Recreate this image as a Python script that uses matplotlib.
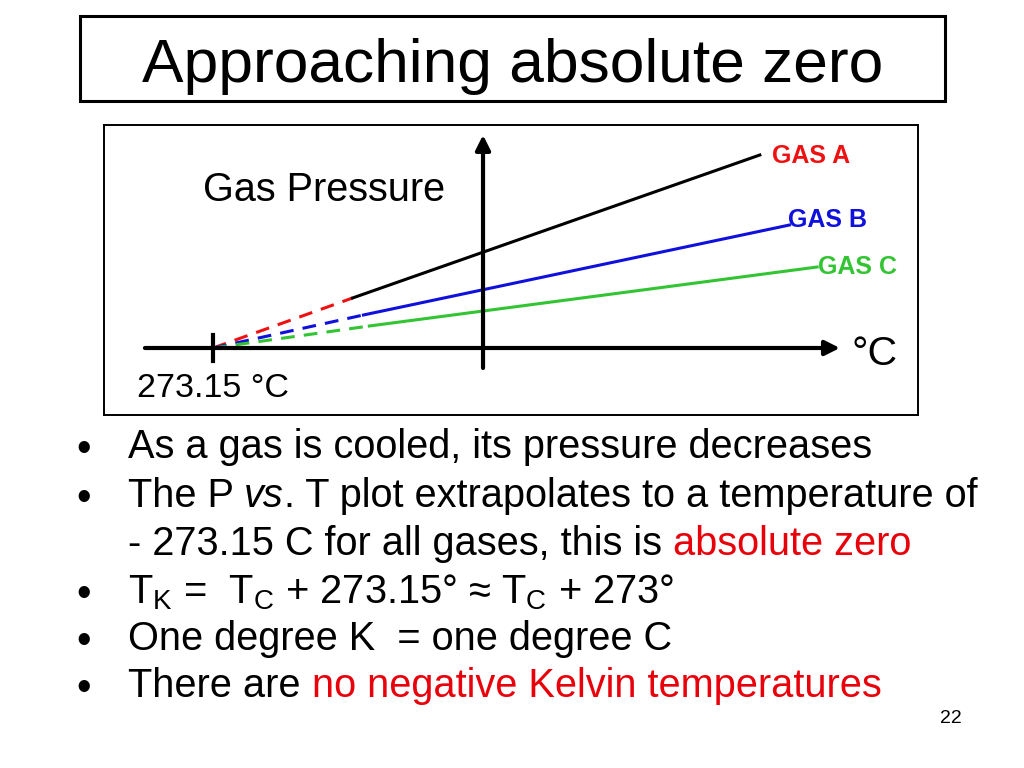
import matplotlib.pyplot as plt

plt.rcParams["font.family"] = ["Liberation Sans", "DejaVu Sans"]
plt.rcParams["mathtext.fontset"] = "custom"
plt.rcParams["mathtext.rm"] = "Liberation Sans"
plt.rcParams["mathtext.it"] = "Liberation Sans:italic"

############################################################
# Data (temperature in °C, pressure in arbitrary units)
############################################################

gases = ["GAS A", "GAS B", "GAS C"]
line_colors = ["black", "#1010dd", "#33c433"]
dash_colors = ["#ee1111", "#1010dd", "#33c433"]
label_colors = ["#ee1111", "#1010dd", "#33c433"]

abs_zero = -273.15

# where the measured (solid) part starts and ends
solid_start_t = [-132, -121, -115]
solid_start_p = [50, 33, 22]
solid_end_t = [280, 310, 338]
solid_end_p = [193, 123, 81]

bullets = [
    [("As a gas is cooled, its pressure decreases", "black", "normal")],
    [("The P ", "black", "normal"), ("vs", "black", "italic"),
     (". T plot extrapolates to a temperature of", "black", "normal")],
    [("- 273.15 C for all gases, this is ", "black", "normal"),
     ("absolute zero", "#e8000b", "normal")],
    [(r"T$_\mathrm{K}$ =  T$_\mathrm{C}$ + 273.15° ≈ T$_\mathrm{C}$ + 273°",
      "black", "normal")],
    [("One degree K  = one degree C", "black", "normal")],
    [("There are ", "black", "normal"),
     ("no negative Kelvin temperatures", "#e8000b", "normal")],
]
bullet_dot = [True, True, False, True, True, True]


def main():

    fig = plt.figure(figsize=(10.24, 7.68), dpi=100)

    ############################################################
    # Slide background (pixel coordinates)
    ############################################################

    bg = fig.add_axes([0, 0, 1, 1])
    bg.set_xlim(0, 1024)
    bg.set_ylim(768, 0)
    bg.axis("off")

    bg.add_patch(plt.Rectangle((80, 16), 865, 85, fill=False,
                               lw=2.2, ec="black"))
    bg.text(513, 82, "Approaching absolute zero", fontsize=44.8,
            ha="center", va="baseline")

    ############################################################
    # Bullets
    ############################################################

    baselines = [458, 507, 555, 603, 650, 697]

    for parts, dot, y in zip(bullets, bullet_dot, baselines):
        if dot:
            bg.text(76, y + 3, "•", fontsize=30, va="baseline")
        prev = None
        for text, color, style in parts:
            if prev is None:
                prev = bg.text(128, y, text, fontsize=28.6, color=color,
                               style=style, va="baseline")
            else:
                prev = bg.annotate(text, xy=(1, 0), xycoords=prev,
                                   fontsize=28.6, color=color, style=style,
                                   va="bottom")

    bg.text(951, 723, "22", fontsize=14, ha="center", va="baseline")

    ############################################################
    # P vs T chart
    ############################################################

    ax = fig.add_axes([104 / 1024, (768 - 415) / 768,
                       814 / 1024, 290 / 768])
    ax.set_facecolor("none")
    ax.set_xlim(-383.4, 440)
    ax.set_ylim(-67, 223)
    ax.set_xticks([])
    ax.set_yticks([])
    for spine in ax.spines.values():
        spine.set_linewidth(1.4)

    # axes arrows
    ax.annotate("", xy=(361, 0), xytext=(-342, 0),
                arrowprops=dict(arrowstyle="-|>", lw=3, color="black",
                                mutation_scale=22, shrinkA=0, shrinkB=0))
    ax.annotate("", xy=(0, 213), xytext=(0, -20),
                arrowprops=dict(arrowstyle="-|>", lw=3, color="black",
                                mutation_scale=22, shrinkA=0, shrinkB=0))
    ax.plot([abs_zero, abs_zero], [-13, 13], color="black", lw=3)

    for i, gas in enumerate(gases):
        ax.plot([abs_zero, solid_start_t[i]], [0, solid_start_p[i]],
                color=dash_colors[i], lw=2.2, dashes=(4.5, 3))
        ax.plot([solid_start_t[i], solid_end_t[i]],
                [solid_start_p[i], solid_end_p[i]],
                color=line_colors[i], lw=2.2)

    # gas labels, placed in slide pixels
    label_x = [772, 788, 818]
    label_y = [163, 227, 274]
    for gas, color, x, y in zip(gases, label_colors, label_x, label_y):
        bg.text(x, y, gas, fontsize=18, fontweight="bold", color=color,
                va="baseline")

    bg.text(203, 201, "Gas Pressure", fontsize=28.5, va="baseline")
    bg.text(137, 397, "273.15 °C", fontsize=24.5, va="baseline")
    bg.text(852, 365, "°C", fontsize=29.5, va="baseline")

    fig.savefig("out.png", dpi=100)
    plt.close(fig)


if __name__ == "__main__":
    main()
